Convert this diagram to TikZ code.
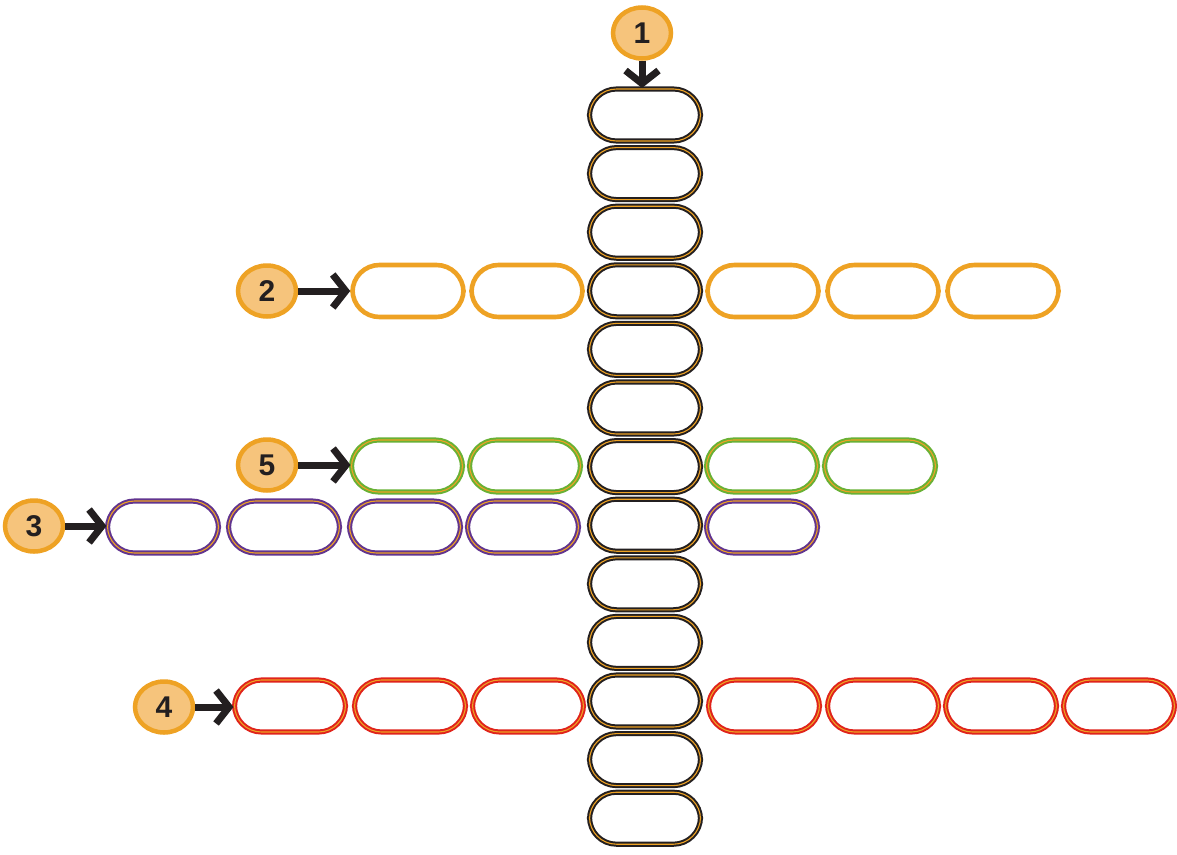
\documentclass[tikz,border=0pt]{standalone}
\usepackage{fontspec}
\setmainfont{Liberation Sans}
\usetikzlibrary{arrows.meta,shapes.geometric}
\definecolor{org}{HTML}{EEA224}
\definecolor{lorg}{HTML}{F6C47C}
\definecolor{drk}{HTML}{231F20}
\definecolor{grn}{HTML}{68B135}
\definecolor{prp}{HTML}{61348F}
\definecolor{rdd}{HTML}{E0231B}
\tikzset{
  pill/.style={rectangle, rounded corners=27pt, minimum width=111pt, minimum height=52pt, inner sep=0pt, fill=white},
  orgpill/.style={pill, draw=org, line width=4.6pt},
  dblpill/.style={pill, draw=#1, line width=2pt, double=org, double distance=1.1pt},
  numc/.style={ellipse, draw=org, line width=4.5pt, fill=lorg, minimum width=58pt, minimum height=51pt, inner sep=0pt, font=\fontsize{30}{30}\selectfont\bfseries, text=drk},
  bigarr/.style={draw=drk, line width=7pt, -{Straight Barb[length=13pt,width=33pt]}},
}
\begin{document}
\begin{tikzpicture}[x=1pt,y=-1pt]
\useasboundingbox (0,0) rectangle (1177,854);
% row 2 (orange)
\foreach \x [count=\i] in {408,527,763,883,1003} \node[orgpill] (o\i) at (\x,291) {};
% row 5 (green)
\foreach \x [count=\i] in {407,525,762,880} \node[dblpill=grn] (g\i) at (\x,466) {};
% row 3 (purple)
\foreach \x [count=\i] in {163,284,405,523,762} \node[dblpill=prp] (p\i) at (\x,527) {};
% row 4 (red)
\foreach \x [count=\i] in {290,410,528,764,883,1001,1119} \node[dblpill=rdd] (r\i) at (\x,706) {};
% column 1
\foreach \k in {0,...,12} \node[dblpill=drk] (c\k) at (645,115+58.6*\k) {};
% numbers
\node[numc] (n1) at (642,33) {1};
\node[numc] (n2) at (267,291) {2};
\node[numc] (n5) at (267,465) {5};
\node[numc] (n3) at (34,526) {3};
\node[numc] (n4) at (164,707) {4};
% arrows
\draw[bigarr] (n1.south) -- (n1.south |- c0.north);
\draw[bigarr] (n2.east) -- (n2.east -| o1.west);
\draw[bigarr] (n5.east) -- (n5.east -| g1.west);
\draw[bigarr] (n3.east) -- (n3.east -| p1.west);
\draw[bigarr] (n4.east) -- (n4.east -| r1.west);
\end{tikzpicture}
\end{document}
